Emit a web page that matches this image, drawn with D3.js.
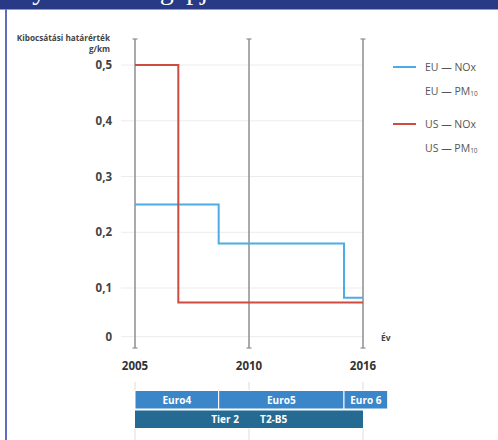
<!DOCTYPE html>
<html lang="hu">
<head>
<meta charset="utf-8">
<script src="https://cdn.jsdelivr.net/npm/d3@7"></script>
<style>
  html, body { margin: 0; padding: 0; background: #fff; }
  svg { display: block; }
  text { font-family: "Open Sans", "DejaVu Sans", sans-serif; }
</style>
</head>
<body>
<svg id="chart" width="498" height="440"></svg>
<script>
// Emission limits (g/km) as step series: each point starts a new level
const euYears = [2005, 2008.67, 2015.0, 2016];
const euNox   = [0.25, 0.18, 0.08, 0.08];
const usYears = [2005, 2006.9, 2016];
const usNox   = [0.5, 0.07, 0.07];

// Axis ticks
const yTicks = [0, 0.1, 0.2, 0.3, 0.4, 0.5];
const yTickLabels = ["0", "0,1", "0,2", "0,3", "0,4", "0,5"];
const xTicks = [2005, 2010, 2016];
const xTickLabels = ["2005", "2010", "2016"];

// Regulation periods shown under the chart
const euroNames  = ["Euro4", "Euro5", "Euro 6"];
const euroStarts = [2005, 2008.67, 2015.0];
const euroEnds   = [2008.67, 2015.0, 2017.3];
const tierStart = 2005, tierEnd = 2016;
const tierLabels = ["Tier 2", "T2-B5"];
const tierLabelYears = [2008.95, 2011.3];

// Legend entries
const legendSeries = ["EU", "US"];
const legendPollutants = ["NOx", "PM"];

const blue = "#4cace4", red = "#cf4a3f";

const svg = d3.select("#chart");

// Header band with the (clipped) page title
svg.append("clipPath").attr("id", "hdr")
  .append("rect").attr("x", 0).attr("y", 0).attr("width", 498).attr("height", 9.5);
svg.append("rect").attr("x", 0).attr("y", 0).attr("width", 498).attr("height", 9.5).attr("fill", "#283a86");
svg.append("text").attr("clip-path", "url(#hdr)")
  .attr("x", 12).attr("y", -1.5)
  .attr("fill", "#fff")
  .style("font-family", "'Liberation Serif', serif")
  .style("font-size", "28px")
  .text("Ny emission gépjárművek limit értékei az EU és USA [1] p");
// left page border
svg.append("line").attr("x1", 6).attr("x2", 6).attr("y1", 9.5).attr("y2", 440)
  .attr("stroke", "#3849a6").attr("stroke-width", 1.6);

// Scales (the printed axes are piecewise linear)
const x = d3.scaleLinear().domain([2005, 2010, 2016]).range([135, 249, 363]);
const y = d3.scaleLinear().domain([0, 0.1, 0.5]).range([336.7, 288, 65]);

// Horizontal gridlines
svg.append("g").selectAll("line").data(yTicks).join("line")
  .attr("x1", 121).attr("x2", 363)
  .attr("y1", d => y(d)).attr("y2", d => y(d))
  .attr("stroke", "#ececec").attr("stroke-width", 1);

// Y tick labels
svg.append("g").selectAll("text").data(yTicks).join("text")
  .attr("x", 112).attr("y", d => y(d)).attr("dy", "0.36em")
  .attr("text-anchor", "end")
  .attr("fill", "#444").style("font-size", "11.5px").style("font-weight", "700")
  .text((d, i) => yTickLabels[i]);

// Y axis title
svg.append("text").attr("x", 110).attr("y", 41).attr("text-anchor", "end")
  .attr("fill", "#444").style("font-size", "8.2px").style("font-weight", "700")
  .text("Kibocsátási határérték");
svg.append("text").attr("x", 110).attr("y", 52).attr("text-anchor", "end")
  .attr("fill", "#444").style("font-size", "8.2px").style("font-weight", "700")
  .text("g/km");

// Vertical year rules with end caps
const vr = svg.append("g").selectAll("g").data(xTicks).join("g");
vr.append("line").attr("x1", d => x(d)).attr("x2", d => x(d)).attr("y1", 39).attr("y2", 348)
  .attr("stroke", "#8e8e8e").attr("stroke-width", 1.5);
[39, 348].forEach(yy => {
  vr.append("line").attr("x1", d => x(d) - 2.5).attr("x2", d => x(d) + 2.5)
    .attr("y1", yy).attr("y2", yy).attr("stroke", "#8e8e8e").attr("stroke-width", 1.2);
});

// X tick labels
svg.append("g").selectAll("text").data(xTicks).join("text")
  .attr("x", d => x(d)).attr("y", 370).attr("text-anchor", "middle")
  .attr("fill", "#333").style("font-size", "11.5px").style("font-weight", "700")
  .text((d, i) => xTickLabels[i]);
svg.append("text").attr("x", 381).attr("y", 341)
  .attr("fill", "#444").style("font-size", "8.5px").style("font-weight", "700").text("Év");

// Step lines
const stepLine = d3.line().x(d => x(d[0])).y(d => y(d[1])).curve(d3.curveStepAfter);
svg.append("path").datum(d3.zip(euYears, euNox)).attr("d", stepLine)
  .attr("fill", "none").attr("stroke", blue).attr("stroke-width", 2);
svg.append("path").datum(d3.zip(usYears, usNox)).attr("d", stepLine)
  .attr("fill", "none").attr("stroke", red).attr("stroke-width", 2);

// Legend
const legColors = [blue, red];
const legY = [67, 124];
legendSeries.forEach((s, i) => {
  svg.append("line").attr("x1", 393).attr("x2", 416).attr("y1", legY[i]).attr("y2", legY[i])
    .attr("stroke", legColors[i]).attr("stroke-width", 2);
  legendPollutants.forEach((p, j) => {
    const t = svg.append("text").attr("x", 425).attr("y", legY[i] + 4 + j * 23.5)
      .attr("fill", "#555").style("font-size", "10.5px");
    t.append("tspan").text(s + " — " + p);
    if (p === "PM") {
      t.append("tspan").attr("dy", 1.5).style("font-size", "6.5px").text("10");
    }
  });
});

// Faint guide ticks around the regulation bands
const gt = svg.append("g");
xTicks.forEach(d => {
  gt.append("line").attr("x1", x(d)).attr("x2", x(d)).attr("y1", 382).attr("y2", 390)
    .attr("stroke", "#dcdcdc").attr("stroke-width", 1);
  gt.append("line").attr("x1", x(d)).attr("x2", x(d)).attr("y1", 428.5).attr("y2", 440)
    .attr("stroke", "#dcdcdc").attr("stroke-width", 1);
});

// Euro bands
const euro = svg.append("g").selectAll("g").data(euroNames).join("g");
euro.append("rect")
  .attr("x", (d, i) => x(euroStarts[i]))
  .attr("width", (d, i) => x(euroEnds[i]) - x(euroStarts[i]))
  .attr("y", 390.5).attr("height", 18.5)
  .attr("fill", "#3a86c8").attr("stroke", "#fff").attr("stroke-width", 1);
euro.append("text")
  .attr("x", (d, i) => (x(euroStarts[i]) + x(euroEnds[i])) / 2)
  .attr("y", 400).attr("dy", "0.36em").attr("text-anchor", "middle")
  .attr("fill", "#fff").style("font-size", "10px").style("font-weight", "700")
  .text(d => d);

// US Tier band
svg.append("rect").attr("x", x(tierStart)).attr("width", x(tierEnd) - x(tierStart))
  .attr("y", 410.5).attr("height", 17.5).attr("fill", "#246a93");
svg.append("g").selectAll("text").data(tierLabels).join("text")
  .attr("x", (d, i) => x(tierLabelYears[i])).attr("y", 419.3).attr("dy", "0.36em")
  .attr("text-anchor", "middle")
  .attr("fill", "#fff").style("font-size", "10px").style("font-weight", "700")
  .text(d => d);
</script>
</body>
</html>
